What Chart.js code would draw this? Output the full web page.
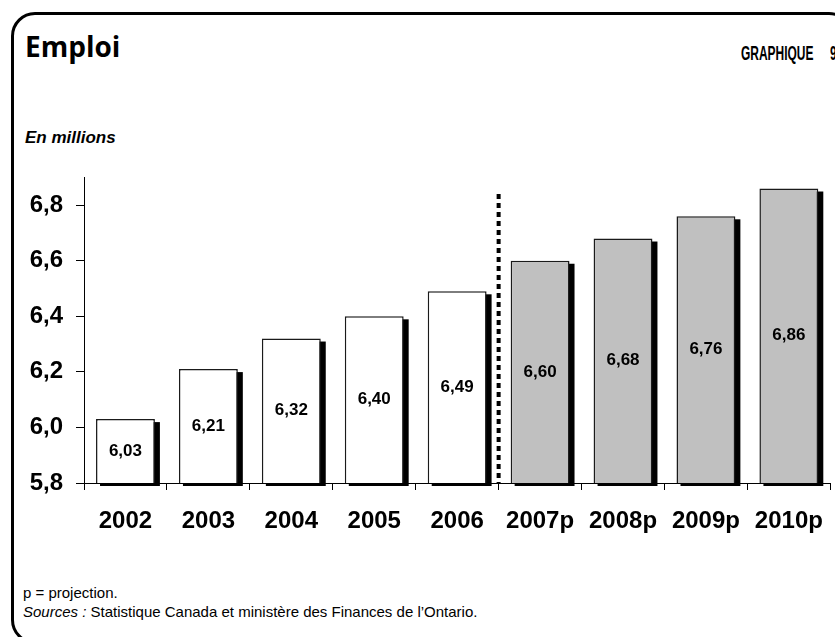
<!DOCTYPE html>
<html lang="fr">
<head>
<meta charset="utf-8">
<title>Emploi</title>
<script src="https://cdn.jsdelivr.net/npm/chart.js@4/dist/chart.umd.min.js"></script>
<style>
    html, body { margin: 0; padding: 0; background: #fff; }
    body { width: 835px; height: 637px; overflow: hidden; position: relative; }
    #frame {
        position: absolute; left: 11px; top: 12px; width: 842px; height: 632px;
        border: 3px solid #000; border-radius: 24px; box-sizing: border-box;
    }
    .txt { position: absolute; white-space: pre; color: #000; }
    #title { left: 25px; top: 32px; font: bold 28px/28px "Open Sans", sans-serif; }
    #graph_no { left: 741px; top: 42px; font: bold 21px/21px "Liberation Sans", Arial, sans-serif;
        transform: scaleX(0.57); transform-origin: left top; }
    #graph_num { left: 830px; top: 42px; font: bold 21px/21px "Liberation Sans", Arial, sans-serif;
        transform: scaleX(0.57); transform-origin: left top; }
    #units { left: 25px; top: 129px; font: italic bold 17px/17px "Liberation Sans", Arial, sans-serif; }
    #notes { left: 23px; top: 583px; font: 15px/19px "Liberation Sans", Arial, sans-serif; }
    #chart { position: absolute; left: 0; top: 150px; }
</style>
</head>
<body>
<div id="frame"></div>
<div class="txt" id="title">Emploi</div>
<div class="txt" id="graph_no">GRAPHIQUE</div>
<div class="txt" id="graph_num">9</div>
<div class="txt" id="units">En millions</div>
<div class="txt" id="notes">p = projection.
<i>Sources :</i> Statistique Canada et ministère des Finances de l’Ontario.</div>
<canvas id="chart" width="840" height="400"></canvas>

<script>
// Emploi en Ontario, en millions
const years = ["2002", "2003", "2004", "2005", "2006", "2007p", "2008p", "2009p", "2010p"]
const employment = [6.03, 6.21, 6.32, 6.40, 6.49, 6.60, 6.68, 6.76, 6.86]
const projected = [false, false, false, false, false, true, true, true, true]

const yMin = 5.8
const yMax = 6.9
const yStep = 0.2

const labelFont = "'Liberation Sans', Arial, sans-serif"

function frenchNumber(value, digits) {
    return value.toFixed(digits).replace(".", ",")
}

// black drop shadow behind each bar
// (bar.base points at value 0, far below the axis, so use the axis bottom)
const barShadow = {
    id: "barShadow",
    beforeDatasetsDraw(chart) {
        const ctx = chart.ctx
        const meta = chart.getDatasetMeta(0)
        const bottom = chart.scales.y.bottom
        ctx.save()
        ctx.fillStyle = "#000"
        for (let bar of meta.data) {
            const half = bar.width / 2
            ctx.fillRect(bar.x - half + 4, bar.y + 3, bar.width + 1, bottom - bar.y)
        }
        ctx.restore()
    }
}

// dotted line between actual and projected years, plus value labels
const overlay = {
    id: "overlay",
    afterDatasetsDraw(chart) {
        const ctx = chart.ctx
        const meta = chart.getDatasetMeta(0)
        const xScale = chart.scales.x
        const yScale = chart.scales.y

        const first = projected.indexOf(true)
        const xLine = (xScale.getPixelForValue(first - 1) + xScale.getPixelForValue(first)) / 2
        ctx.save()
        ctx.strokeStyle = "#000"
        ctx.lineWidth = 4
        ctx.setLineDash([5, 4])
        ctx.beginPath()
        ctx.moveTo(xLine, yScale.getPixelForValue(6.84))
        ctx.lineTo(xLine, yScale.bottom)
        ctx.stroke()
        ctx.restore()

        ctx.save()
        ctx.fillStyle = "#000"
        ctx.font = "bold 17px " + labelFont
        ctx.textAlign = "center"
        ctx.textBaseline = "middle"
        meta.data.forEach((bar, i) => {
            ctx.fillText(frenchNumber(employment[i], 2), bar.x, (bar.y + yScale.bottom) / 2)
        })
        ctx.restore()
    }
}

new Chart(document.getElementById("chart"), {
    type: "bar",
    data: {
        labels: years,
        datasets: [{
            data: employment,
            backgroundColor: projected.map(p => p ? "#c0c0c0" : "#ffffff"),
            borderColor: "#1a1a1a",
            borderWidth: 1.5,
            barPercentage: 0.71,
            categoryPercentage: 1.0
        }]
    },
    options: {
        responsive: false,
        animation: false,
        layout: { padding: { top: 22, right: 2, bottom: 0, left: 0 } },
        plugins: {
            legend: { display: false },
            tooltip: { enabled: false }
        },
        scales: {
            x: {
                grid: {
                    offset: true,
                    drawOnChartArea: false,
                    drawTicks: true,
                    tickLength: 7,
                    tickColor: "#000"
                },
                border: { display: true, color: "#000", width: 1 },
                ticks: {
                    color: "#000",
                    font: { family: labelFont, size: 24, weight: "bold" },
                    padding: 17,
                    maxRotation: 0,
                    autoSkip: false
                },
                afterFit(scale) { scale.height = 67 }
            },
            y: {
                min: yMin,
                max: yMax,
                grid: {
                    drawOnChartArea: false,
                    drawTicks: true,
                    tickLength: 8,
                    tickColor: "#000"
                },
                border: { display: true, color: "#000", width: 1 },
                ticks: {
                    stepSize: yStep,
                    color: "#000",
                    font: { family: labelFont, size: 24, weight: "bold" },
                    padding: 13,
                    callback: v => frenchNumber(v, 1)
                },
                afterBuildTicks(scale) {
                    scale.ticks = scale.ticks.filter(t => t.value <= 6.8 + 1e-9)
                },
                afterFit(scale) { scale.width = 84 }
            }
        }
    },
    plugins: [barShadow, overlay]
})
</script>
</body>
</html>
